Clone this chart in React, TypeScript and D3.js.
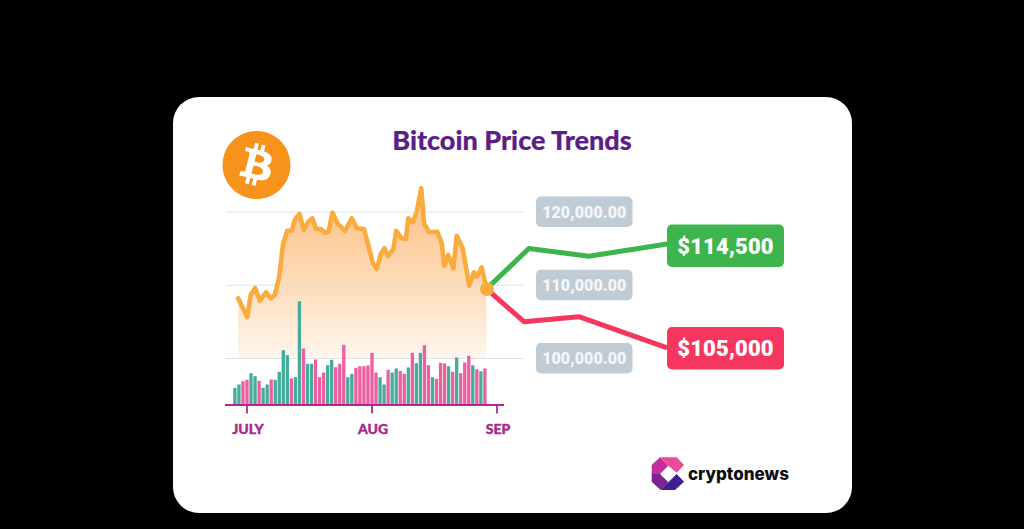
import React from "react";
import * as d3 from "d3";

const lineDays = [-2.2,0.1,0.9,2,3.2,4.7,5.9,6.9,8,8.9,10,11.1,11.9,13,14.1,15.2,16.2,17.1,18.3,19.3,20.2,21.2,22.4,24.3,26,27.2,29,30.5,31.2,32.2,33.2,34.1,35,36.3,37,38.4,39.4,40,41.1,42.1,43.2,43.9,45.2,47.2,48.3,48.9,49.9,51.2,52,53.5,55.1,56.3,57,58.2,59.4];
const linePrices = [108220,105630,108670,109585,107890,109040,108220,108670,111170,115500,117450,117450,119000,119730,117540,118680,119140,117680,117680,117170,117310,119900,118460,117410,119140,117780,117680,114580,113000,112220,114270,115050,113990,114950,117410,116410,116315,119140,118590,120040,123235,118460,117230,117310,115730,112670,114130,112315,116765,115050,109940,111770,111170,112450,109490];

const volumes = [16.7,20,23.3,24.7,31.3,28.3,23.7,16.7,20,25,24.7,32.7,54.3,49.3,26,27.3,103.3,56,40.7,40.7,45,27.3,32,39.3,44.7,37.3,40.7,59.7,27.3,30.7,36.7,38.3,38.3,39,51.7,32,27.3,20,34.7,32,36,33.7,30.7,37,51.7,41.3,51.7,59.3,39.3,27.3,25.7,41.7,41,38.3,32.7,47,31.3,42,48.7,39.3,35.3,33.3,36];
const volumeUp = [1,1,0,0,1,1,0,1,1,0,1,1,1,1,0,1,1,0,1,1,0,0,0,1,1,0,0,0,1,1,0,0,0,0,0,0,1,1,0,1,1,0,0,1,0,1,1,0,0,1,0,0,0,1,0,1,0,0,0,1,0,1,0];

const gridPrices = [120000,110000,100000];
const gridLabels = ["120,000.00","110,000.00","100,000.00"];
const monthDays = [0,31,62];
const monthLabels = ["JULY","AUG","SEP"];

const forecastDays = [59.4,69.9,84.8,104.2];
const bullPrices = [109490,115020,113970,115630];
const bearDays = [59.4,68.7,82.3,104.2];
const bearPrices = [109490,105030,105710,101440];

const callouts = ["$114,500","$105,000"];

const x = d3.scaleLinear().domain([0,62]).range([247,497]);
const y = d3.scaleLinear().domain([100000,120000]).range([358.5,212]);
const volY = d3.scaleLinear().domain([0,100]).range([404.5,304.5]);

const BTC_CIRCLE = "M63.04 39.741c-4.274 17.143-21.638 27.575-38.783 23.301C7.12 58.768-3.313 41.404.962 24.262 5.234 7.117 22.597-3.317 39.737.957c17.144 4.274 27.576 21.64 23.302 38.784z";
const BTC_B = "M46.11 27.441c.636-4.258-2.606-6.547-7.039-8.074l1.438-5.768-3.512-.875-1.4 5.616c-.922-.23-1.87-.447-2.812-.662l1.41-5.653-3.509-.875-1.439 5.766c-.764-.174-1.514-.346-2.242-.527l.004-.018-4.842-1.209-.934 3.75s2.605.597 2.55.634c1.422.355 1.68 1.296 1.636 2.042l-1.638 6.571c.098.025.225.061.365.117l-.37-.092-2.297 9.205c-.174.432-.615 1.08-1.609.834.035.051-2.552-.637-2.552-.637l-1.743 4.02 4.57 1.139c.85.213 1.683.436 2.502.646l-1.453 5.835 3.507.875 1.44-5.772c.957.26 1.887.5 2.797.726L27.504 50.8l3.511.875 1.453-5.823c5.987 1.133 10.49.676 12.383-4.738 1.527-4.36-.075-6.875-3.225-8.516 2.294-.531 4.022-2.04 4.483-5.157zM38.087 38.69c-1.086 4.36-8.426 2.004-10.807 1.412l1.928-7.729c2.38.594 10.011 1.77 8.88 6.317zm1.085-11.312c-.99 3.966-7.1 1.951-9.083 1.457l1.748-7.01c1.983.494 8.367 1.416 7.335 5.553z";

export default function App() {
  const pts = lineDays.map((d, i) => [d, linePrices[i]] as [number, number]);
  const linePath = d3.line<[number, number]>().x(d => x(d[0])).y(d => y(d[1]))(pts)!;
  const areaPath = d3.area<[number, number]>().x(d => x(d[0])).y0(y(100000)).y1(d => y(d[1]))(pts)!;
  const line2 = d3.line<[number, number]>().x(d => x(d[0])).y(d => y(d[1]));
  const bull = line2(forecastDays.map((d, i) => [d, bullPrices[i]]))!;
  const bear = line2(bearDays.map((d, i) => [d, bearPrices[i]]))!;
  const labelFont = "Roboto, sans-serif";
  return (
    <svg width={1024} height={529} viewBox="0 0 1024 529" style={{ position: "fixed", left: 0, top: 0, background: "#000" }}>
      <defs>
        <linearGradient id="fill" gradientUnits="userSpaceOnUse" x1={0} x2={0} y1={212} y2={358}>
          <stop offset="0" stopColor="#fdc590" />
          <stop offset="0.5" stopColor="#fddcb9" />
          <stop offset="1" stopColor="#fef6ee" />
        </linearGradient>
      </defs>
      <rect x={173} y={97} width={679} height={416} rx={26} fill="#fff" />
      <text x={512} y={150} textAnchor="middle" fontFamily="Lato, sans-serif" fontWeight={900} fontSize={27} fill="#5b1e87" stroke="#5b1e87" strokeWidth={0.2}>Bitcoin Price Trends</text>
      <g transform="translate(222.5,131) scale(1.0625)">
        <path d={BTC_CIRCLE} fill="#f7931a" />
        <path d={BTC_B} fill="#fff" />
      </g>
      <path d={areaPath} fill="url(#fill)" />
      {gridPrices.map((p, i) => (
        <g key={p}>
          <line x1={226} x2={524} y1={y(p)} y2={y(p)} stroke="#dfe2e5" strokeWidth={1} />
          <rect x={536} y={y(p) - 15.5} width={96.5} height={30.5} rx={5} fill="#bfccd6" />
          <text x={584.3} y={y(p) + 5.5} textAnchor="middle" fontFamily={labelFont} fontWeight={900} fontSize={16} letterSpacing={0.1} fill="#f4f6f8">{gridLabels[i]}</text>
        </g>
      ))}
      {volumes.map((v, i) => (
        <rect key={i} x={x(i - 3) - 1.65} y={volY(v)} width={3.3} height={volY(0) - volY(v)} fill={volumeUp[i] ? "#45ab9b" : "#ee5f9f"} />
      ))}
      <line x1={225} x2={504} y1={405} y2={405} stroke="#b5268f" strokeWidth={2.2} />
      {monthDays.map((d, i) => (
        <g key={d}>
          <line x1={x(d)} x2={x(d)} y1={405} y2={413.5} stroke="#b5268f" strokeWidth={1.8} />
          <text x={x(d) + 1} y={434} textAnchor="middle" fontFamily="Lato, sans-serif" fontWeight={900} fontSize={14} fill="#a8288f" stroke="#a8288f" strokeWidth={0.4}>{monthLabels[i]}</text>
        </g>
      ))}
      <path d={linePath} fill="none" stroke="#f9ab3d" strokeWidth={4.6} strokeLinejoin="round" strokeLinecap="round" />
      <path d={bull} fill="none" stroke="#3cb54a" strokeWidth={5} strokeLinejoin="round" />
      <path d={bear} fill="none" stroke="#f5375f" strokeWidth={5} strokeLinejoin="round" />
      <circle cx={x(59.4) + 0.5} cy={y(109490)} r={7} fill="#f9ab3d" />
      <rect x={667} y={224.5} width={117} height={42.5} rx={5} fill="#3db54c" />
      <text x={725.5} y={253.5} textAnchor="middle" fontFamily={labelFont} fontWeight={900} fontSize={22} letterSpacing={0.15} fill="#fff">{callouts[0]}</text>
      <rect x={667} y={327} width={117} height={42.5} rx={5} fill="#f5375f" />
      <text x={725.5} y={356} textAnchor="middle" fontFamily={labelFont} fontWeight={900} fontSize={22} letterSpacing={0.15} fill="#fff">{callouts[1]}</text>
      <g transform="translate(640,450) scale(0.3333)">
        <polygon points="35,45 60,22 85,47 60,72 35,72" fill="#c02f9c" />
        <polygon points="60,22 110,22 132,45 110,68 85,47" fill="#e84c94" />
        <polygon points="35,72 60,72 85,97 62,120 35,95" fill="#7b2394" />
        <polygon points="85,97 110,72 132,95 105,120 62,120" fill="#3f1f8e" />
      </g>
      <text x={688} y={479.5} fontFamily="Inter, sans-serif" fontWeight={800} fontSize={17} fill="#0d0d12">cryptonews</text>
    </svg>
  );
}
